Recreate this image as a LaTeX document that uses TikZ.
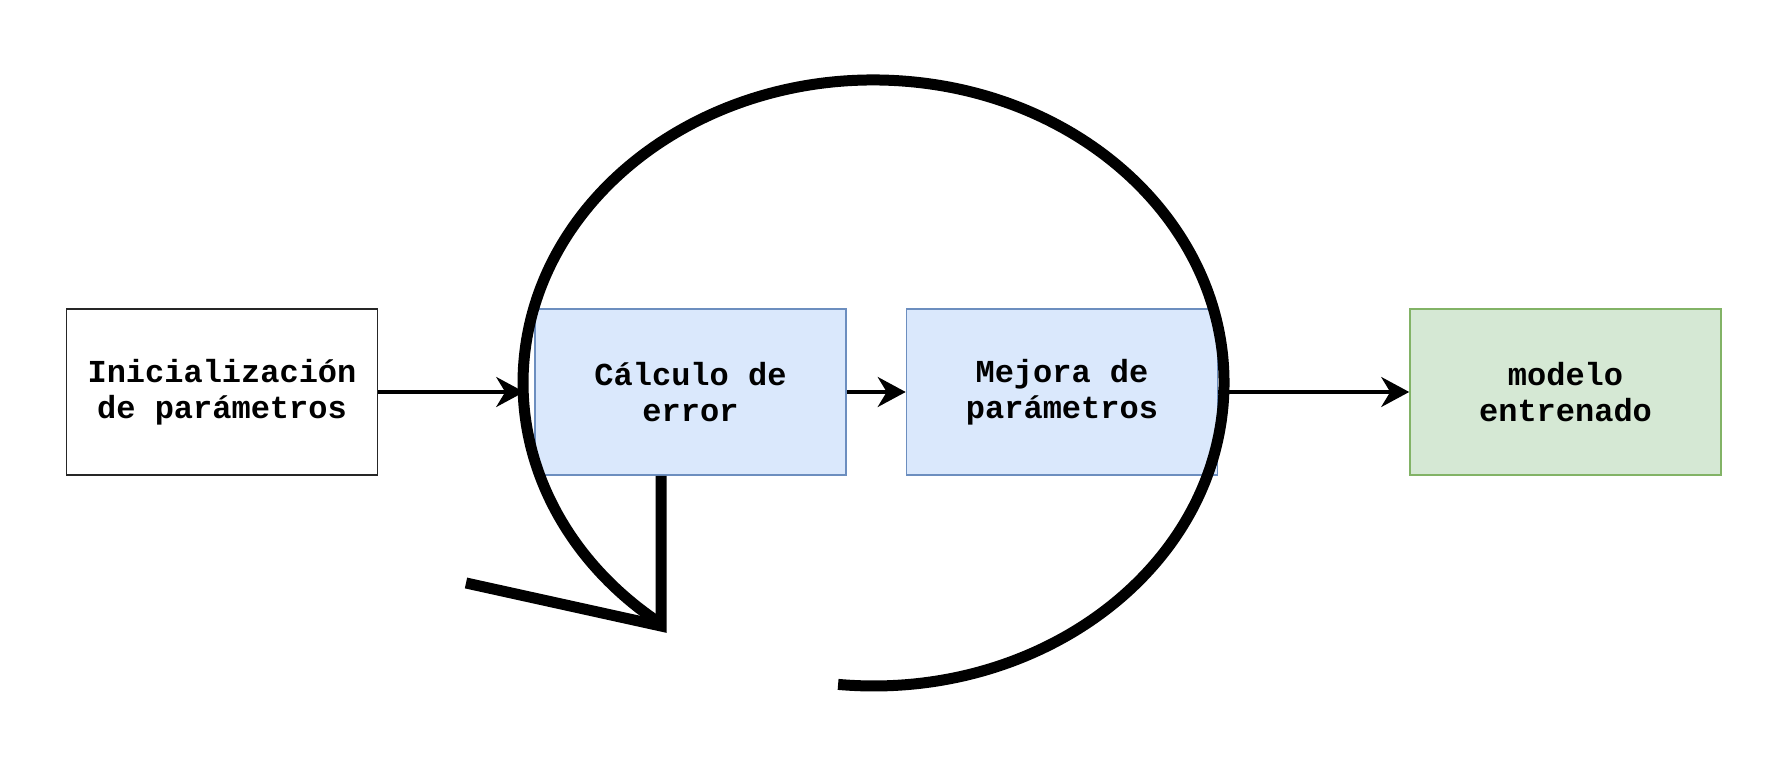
\documentclass[tikz,border=0pt]{standalone}
\usepackage{fontspec}
\setmonofont{Liberation Mono}
\usetikzlibrary{arrows.meta}
\definecolor{bluefill}{HTML}{DAE8FC}
\definecolor{bluedraw}{HTML}{6C8EBF}
\definecolor{greenfill}{HTML}{D5E8D4}
\definecolor{greendraw}{HTML}{82B366}
\begin{document}
\begin{tikzpicture}[x=1pt,y=1pt,
  box/.style={minimum width=311pt, minimum height=166pt, inner sep=0pt, align=center,
    font=\ttfamily\bfseries\fontsize{32}{36}\selectfont, line width=1.6pt},
  plainbox/.style={box, draw=black!85, fill=white},
  bluebox/.style={box, draw=bluedraw, fill=bluefill},
  greenbox/.style={box, draw=greendraw, fill=greenfill},
  flow/.style={line width=3.5pt, -{Stealth[length=28pt,width=30pt,inset=9pt]}},
  loopline/.style={line width=11pt, line cap=butt, line join=miter}]
\useasboundingbox (0,0) rectangle (1792,760);
\node[plainbox] (b1) at (222,368) {Inicialización\\de parámetros};
\node[bluebox] (b2) at (690.5,368) {Cálculo de\\error};
\node[bluebox] (b3) at (1062,368) {Mejora de\\parámetros};
\node[greenbox] (b4) at (1565.5,368) {modelo\\entrenado};
\draw[flow] (b1.east) -- ([xshift=-10pt]b2.west);
\draw[flow] (b2.east) -- (b3.west);
\draw[flow] (b3.east) -- (b4.west);
\coordinate (loopstart) at (838.1,75.6);
\coordinate (tip) at (661,134);
\coordinate (wing) at (466,177);
\draw[loopline] (loopstart) arc[start angle=264.2, end angle=592.9, x radius=350.5, y radius=303];
\draw[loopline] (wing) -- (tip) -- (tip |- b2.south);
\end{tikzpicture}
\end{document}
